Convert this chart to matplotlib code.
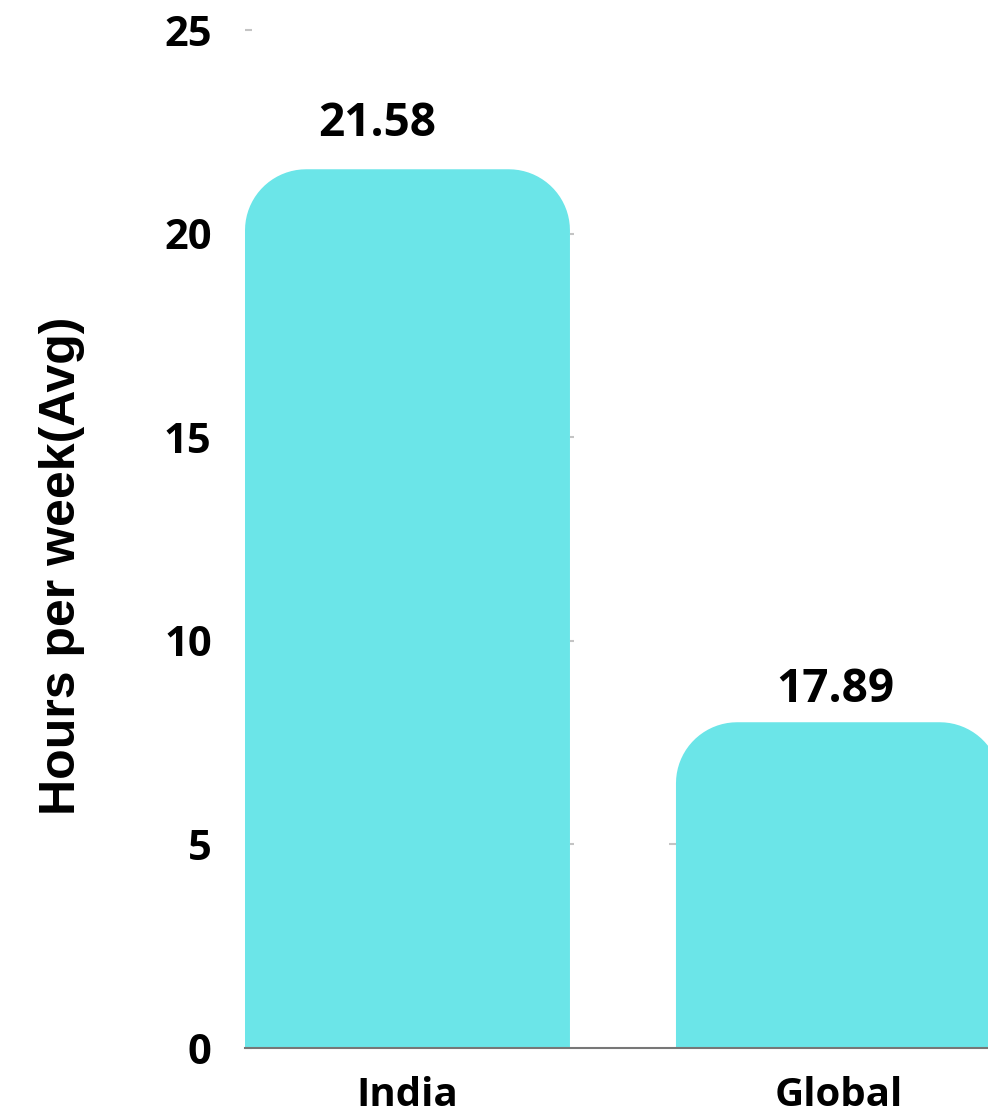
import numpy as np
import matplotlib
matplotlib.use("Agg")
import matplotlib.pyplot as plt
from matplotlib.patches import PathPatch
from matplotlib.path import Path

# ---- data ----
categories = ["India", "Global"]
bar_heights = [21.58, 8.0]          # heights as drawn in the reference
value_labels = ["21.58", "17.89"]   # labels as printed in the reference
y_ticks = [0, 5, 10, 15, 20, 25]

BAR_COLOR = "#6be5e8"

fig = plt.figure(figsize=(9.88, 11.14), dpi=100)
ax = fig.add_axes([245/988, 66/1114, 743/988, 1018/1114])

x = list(range(len(categories)))
width = 0.754
bars = ax.bar(x, bar_heights, width=width, color=BAR_COLOR, zorder=2)

ax.set_ylim(0, 25)
ax.set_xlim(-width/2, 1.347)


def rounded_top(bx, bw, bh, rx, ry, base=-3.0):
    t = np.linspace(np.pi, np.pi/2, 20)
    left_arc = np.column_stack([bx + rx + rx*np.cos(t), bh - ry + ry*np.sin(t)])
    t2 = np.linspace(np.pi/2, 0, 20)
    right_arc = np.column_stack([bx + bw - rx + rx*np.cos(t2), bh - ry + ry*np.sin(t2)])
    pts = np.vstack([[[bx, base]], left_arc, right_arc, [[bx + bw, base]], [[bx, base]]])
    codes = [Path.MOVETO] + [Path.LINETO]*(len(pts) - 2) + [Path.CLOSEPOLY]
    return Path(pts, codes)


# replace plain bars with rounded-top bars
rx = 0.142   # horizontal corner radius, x data units (~61 px)
ry = 1.50    # vertical corner radius, y data units (~61 px)
for b in bars:
    bx, bw, bh = b.get_x(), b.get_width(), b.get_height()
    b.set_visible(False)
    patch = PathPatch(rounded_top(bx, bw, bh, rx, ry),
                      facecolor=BAR_COLOR, edgecolor="none", zorder=2)
    ax.add_patch(patch)
    # small grey marks on both sides of each bar at tick levels below its top
    for tv in y_ticks[1:]:
        if tv < bh:
            ax.plot([bx + bw, bx + bw + 0.01], [tv, tv], color="#c4c4c4", lw=1.5,
                    zorder=1, solid_capstyle="butt")
            ax.plot([bx - 0.016, bx], [tv, tv], color="#c4c4c4", lw=1.5,
                    zorder=1, solid_capstyle="butt")

# value labels
offsets = [(-30, 22), (-3, 9)]
for xi, h, lab, off in zip(x, bar_heights, value_labels, offsets):
    ax.annotate(lab, (xi, h), xytext=off, textcoords="offset pixels",
                ha="center", va="bottom", fontsize=33, fontweight="bold",
                family="Open Sans", color="black")

ax.set_yticks(y_ticks)
ax.set_yticklabels([str(t) for t in y_ticks], fontsize=30, fontweight="bold",
                   family="Open Sans")
ax.tick_params(axis="y", direction="in", length=5, width=1.5, color="#c4c4c4",
               pad=24)
ax.set_xticks(x)
ax.set_xticklabels(categories, fontsize=29, fontweight="bold", family="Open Sans")
ax.tick_params(axis="x", length=0, pad=20)

ax.set_ylabel("Hours per week(Avg)", fontsize=36, fontweight="bold",
              family="Liberation Sans")
ax.yaxis.set_label_coords(-0.216, 0.474)

for s in ["top", "right", "left"]:
    ax.spines[s].set_visible(False)
ax.spines["bottom"].set_color("#777777")
ax.spines["bottom"].set_linewidth(1.5)
ax.spines["bottom"].set_zorder(3)

fig.savefig("out.png", dpi=100)
